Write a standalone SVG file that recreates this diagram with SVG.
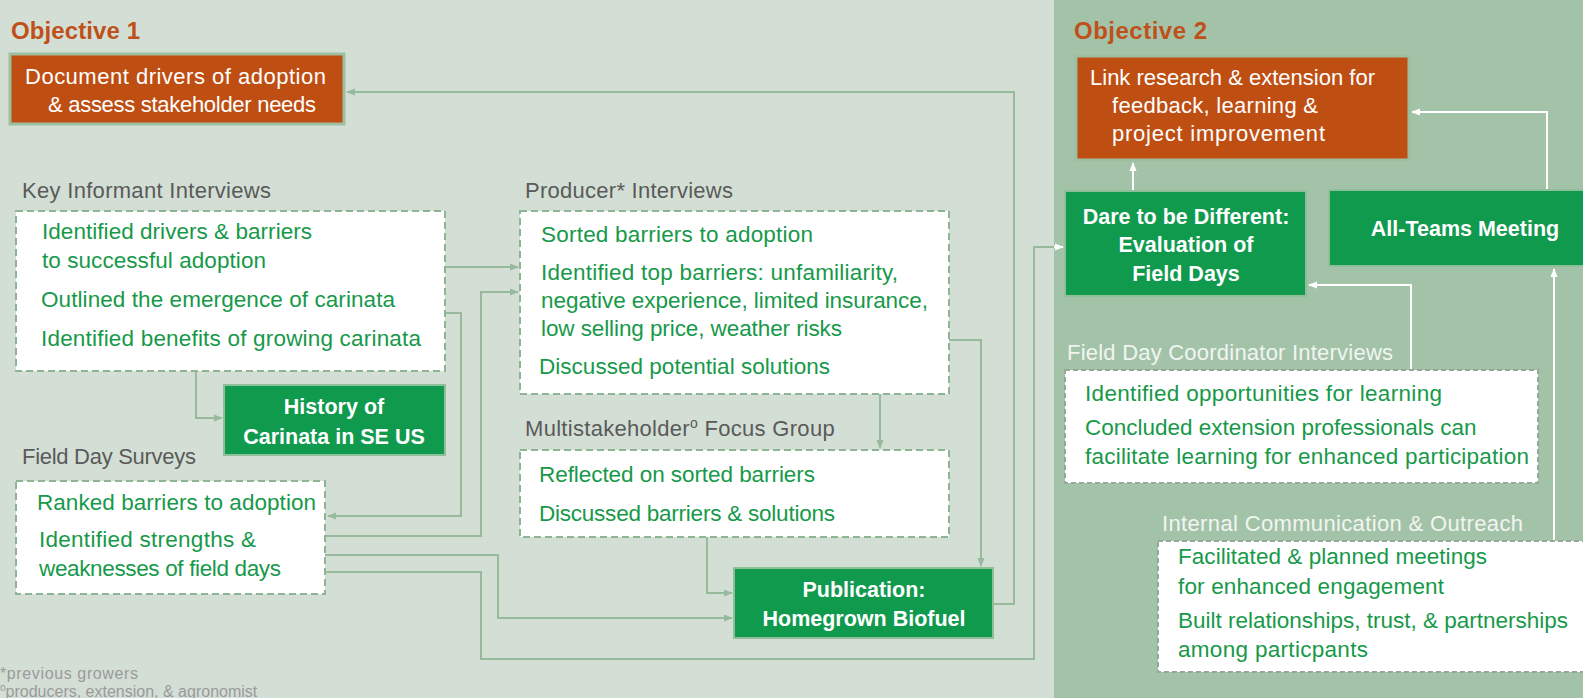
<svg xmlns="http://www.w3.org/2000/svg" width="1583" height="698" viewBox="0 0 1583 698">
  <defs>
    <style>
      text { font-family: "Liberation Sans", Arial, sans-serif; }
      .title { font-size: 24px; font-weight: bold; fill: #c0501a; }
      .goal { fill: #bf4e13; stroke: #9dbf9f; stroke-width: 3; }
      .goal-t { font-size: 22px; fill: #ffffff; }
      .prod { fill: #0f9a4e; stroke: #8fbf98; stroke-width: 2; }
      .prod-t { font-size: 21.5px; font-weight: bold; fill: #ffffff; text-anchor: middle; }
      .act { fill: #ffffff; stroke: #8db593; stroke-width: 2; stroke-dasharray: 7 4; }
      .act-r { fill: #ffffff; stroke: #97a79a; stroke-width: 2; stroke-dasharray: 5 3; }
      .lbl { font-size: 22px; fill: #5a5a5a; }
      .lbl-r { font-size: 22px; fill: #f1f5f1; }
      .item { font-size: 22.5px; fill: #17994a; }
      .note { font-size: 16px; fill: #9a9a9a; }
      .link { fill: none; stroke: #97b99c; stroke-width: 2; }
      .link-w { fill: none; stroke: #ffffff; stroke-width: 2; }
    </style>
    <marker id="arr" viewBox="0 0 10 10" refX="9" refY="5" markerWidth="4.5" markerHeight="4.5" orient="auto" markerUnits="strokeWidth">
      <path d="M0,1 L10,5 L0,9 z" fill="#97b99c"/>
    </marker>
    <marker id="arr-w" viewBox="0 0 10 10" refX="9" refY="5" markerWidth="4.5" markerHeight="4.5" orient="auto" markerUnits="strokeWidth">
      <path d="M0,1 L10,5 L0,9 z" fill="#ffffff"/>
    </marker>
  </defs>

  <!-- panels -->
  <rect x="0" y="0" width="1054" height="698" fill="#d3dfd5"/>
  <rect x="1054" y="0" width="529" height="698" fill="#a3c3a8"/>

  <text class="title" x="11" y="39" textLength="129">Objective 1</text>
  <text class="title" x="1074" y="39" textLength="133">Objective 2</text>

  <!-- connectors -->
  <g id="connectors">
    <path class="link" d="M445 267 H518" marker-end="url(#arr)"/>
    <path class="link" d="M445 313 H461 V516 H328" marker-end="url(#arr)"/>
    <path class="link" d="M325 536 H481 V292 H518" marker-end="url(#arr)"/>
    <path class="link" d="M325 555 H498 V618 H732" marker-end="url(#arr)"/>
    <path class="link" d="M325 572 H481 V659 H1034 V247 H1054"/>
    <path class="link-w" d="M1054 247 H1063" marker-end="url(#arr-w)"/>
    <path class="link" d="M196 371 V418 H222" marker-end="url(#arr)"/>
    <path class="link" d="M880 394 V448" marker-end="url(#arr)"/>
    <path class="link" d="M949 340 H981 V566" marker-end="url(#arr)"/>
    <path class="link" d="M707 537 V593 H732" marker-end="url(#arr)"/>
    <path class="link" d="M993 604 H1014 V92 H347" marker-end="url(#arr)"/>
    <path class="link-w" d="M1133 191 V163" marker-end="url(#arr-w)"/>
    <path class="link-w" d="M1547 190 V112 H1412" marker-end="url(#arr-w)"/>
    <path class="link-w" d="M1411 370 V285 H1309" marker-end="url(#arr-w)"/>
    <path class="link-w" d="M1554 541 V269" marker-end="url(#arr-w)"/>
  </g>

  <!-- Objective 1 goal -->
  <g id="goal-1">
    <rect class="goal" x="10" y="54" width="334" height="70"/>
    <text class="goal-t" x="25" y="84" textLength="301">Document drivers of adoption</text>
    <text class="goal-t" x="48" y="112" textLength="268">&amp; assess stakeholder needs</text>
  </g>

  <!-- Objective 2 goal -->
  <g id="goal-2">
    <rect class="goal" x="1076" y="56" width="333" height="104"/>
    <text class="goal-t" x="1090" y="85" textLength="285">Link research &amp; extension for</text>
    <text class="goal-t" x="1112" y="113" textLength="206">feedback, learning &amp;</text>
    <text class="goal-t" x="1112" y="141" textLength="213">project improvement</text>
  </g>

  <g id="key-informant">
    <text class="lbl" x="22" y="198" textLength="249">Key Informant Interviews</text>
    <rect class="act" x="16" y="211" width="429" height="160"/>
    <text class="item" x="42" y="239" textLength="270">Identified drivers &amp; barriers</text>
    <text class="item" x="42" y="268" textLength="224">to successful adoption</text>
    <text class="item" x="41" y="307" textLength="354">Outlined the emergence of carinata</text>
    <text class="item" x="41" y="346" textLength="380">Identified benefits of growing carinata</text>
  </g>

  <g id="history">
    <rect class="prod" x="224" y="385" width="221" height="70"/>
    <text class="prod-t" x="334" y="414">History of</text>
    <text class="prod-t" x="334" y="444">Carinata in SE US</text>
  </g>

  <g id="field-day-surveys">
    <text class="lbl" x="22" y="464" textLength="174">Field Day Surveys</text>
    <rect class="act" x="16" y="481" width="309" height="113"/>
    <text class="item" x="37" y="510" textLength="279">Ranked barriers to adoption</text>
    <text class="item" x="39" y="547" textLength="217">Identified strengths &amp;</text>
    <text class="item" x="39" y="576" textLength="242">weaknesses of field days</text>
  </g>

  <g id="producer-interviews">
    <text class="lbl" x="525" y="198" textLength="208">Producer* Interviews</text>
    <rect class="act" x="520" y="211" width="429" height="183"/>
    <text class="item" x="541" y="242" textLength="272">Sorted barriers to adoption</text>
    <text class="item" x="541" y="280" textLength="357">Identified top barriers: unfamiliarity,</text>
    <text class="item" x="541" y="308" textLength="387">negative experience, limited insurance,</text>
    <text class="item" x="541" y="336" textLength="301">low selling price, weather risks</text>
    <text class="item" x="539" y="374" textLength="291">Discussed potential solutions</text>
  </g>

  <g id="focus-group">
    <text class="lbl" x="525" y="436" letter-spacing="0.3">Multistakeholder<tspan font-size="14" dy="-8">o</tspan><tspan dy="8"> Focus Group</tspan></text>
    <rect class="act" x="520" y="450" width="429" height="87"/>
    <text class="item" x="539" y="482" textLength="276">Reflected on sorted barriers</text>
    <text class="item" x="539" y="521" textLength="296">Discussed barriers &amp; solutions</text>
  </g>

  <g id="publication">
    <rect class="prod" x="734" y="568" width="259" height="70"/>
    <text class="prod-t" x="864" y="597">Publication:</text>
    <text class="prod-t" x="864" y="626">Homegrown Biofuel</text>
  </g>

  <g id="dare">
    <rect class="prod" x="1065" y="191" width="241" height="105"/>
    <text class="prod-t" x="1186" y="224">Dare to be Different:</text>
    <text class="prod-t" x="1186" y="252">Evaluation of</text>
    <text class="prod-t" x="1186" y="281">Field Days</text>
  </g>

  <g id="all-teams">
    <rect class="prod" x="1329" y="190" width="262" height="76"/>
    <text class="prod-t" x="1465" y="236">All-Teams Meeting</text>
  </g>

  <g id="coordinator-interviews">
    <text class="lbl-r" x="1067" y="360" textLength="326">Field Day Coordinator Interviews</text>
    <rect class="act-r" x="1065" y="370" width="473" height="113"/>
    <text class="item" x="1085" y="401" textLength="357">Identified opportunities for learning</text>
    <text class="item" x="1085" y="435">Concluded extension professionals can</text>
    <text class="item" x="1085" y="464" textLength="444">facilitate learning for enhanced participation</text>
  </g>

  <g id="internal-communication">
    <text class="lbl-r" x="1162" y="531" textLength="361">Internal Communication &amp; Outreach</text>
    <rect class="act-r" x="1158" y="541" width="440" height="131"/>
    <text class="item" x="1178" y="564" textLength="309">Facilitated &amp; planned meetings</text>
    <text class="item" x="1178" y="594" textLength="266">for enhanced engagement</text>
    <text class="item" x="1178" y="628" textLength="390">Built relationships, trust, &amp; partnerships</text>
    <text class="item" x="1178" y="657" textLength="190">among particpants</text>
  </g>

  <!-- footnotes -->
  <text class="note" x="0" y="679" textLength="138">*previous growers</text>
  <text class="note" x="0" y="697"><tspan font-size="10" dy="-6">o</tspan><tspan dy="6">producers, extension, &amp; agronomist</tspan></text>
</svg>
